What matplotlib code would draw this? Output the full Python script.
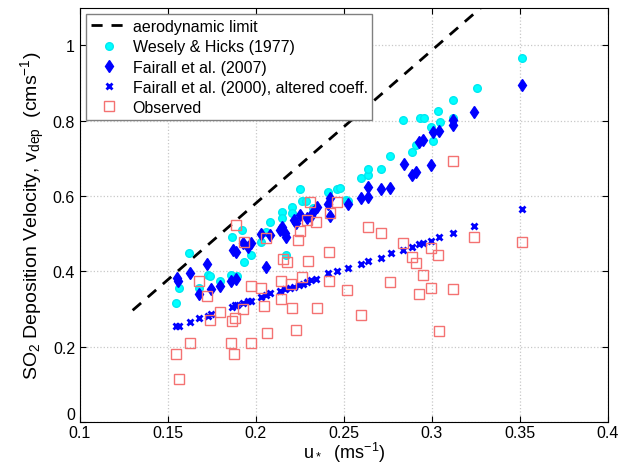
import matplotlib
matplotlib.use('Agg')
import matplotlib.pyplot as plt
from matplotlib.ticker import FixedLocator, FuncFormatter

plt.rcParams['font.family'] = ['Liberation Sans', 'DejaVu Sans']
plt.rcParams['mathtext.default'] = 'regular'

# aerodynamic limit (end points of the straight line)
lim_u = [0.13, 0.35]
lim_v = [0.297, 1.19]

# Wesely & Hicks (1977)
wh_u = [0.1545, 0.1563, 0.162, 0.1678, 0.173, 0.1742, 0.1795, 0.1858, 0.1894, 0.1867,
        0.1924, 0.1934, 0.1975, 0.2032, 0.206, 0.2083, 0.2146, 0.2146, 0.2174, 0.2208,
        0.2208, 0.225, 0.226, 0.2284, 0.2326, 0.241, 0.2462, 0.2477, 0.2515, 0.2525,
        0.26, 0.2638, 0.2638, 0.2714, 0.2765, 0.2837, 0.289, 0.2909, 0.2932, 0.2955,
        0.2993, 0.3004, 0.3036, 0.3045, 0.3118, 0.3121, 0.3256, 0.3515]
wh_v = [0.317, 0.356, 0.448, 0.356, 0.392, 0.388, 0.374, 0.392, 0.388, 0.492,
        0.510, 0.426, 0.444, 0.479, 0.506, 0.532, 0.557, 0.543, 0.445, 0.572,
        0.555, 0.619, 0.586, 0.587, 0.568, 0.610, 0.619, 0.621, 0.590, 0.587,
        0.648, 0.657, 0.673, 0.673, 0.706, 0.803, 0.716, 0.735, 0.808, 0.808,
        0.783, 0.747, 0.826, 0.797, 0.854, 0.808, 0.888, 0.968]

# Fairall et al. (2007)
f07_u = [0.1553, 0.1555, 0.1625, 0.1678, 0.1725, 0.1744, 0.1795, 0.1856, 0.1886, 0.1871,
         0.189, 0.1928, 0.1956, 0.1975, 0.2032, 0.2055, 0.208, 0.2136, 0.2146, 0.2165,
         0.2174, 0.2218, 0.2231, 0.225, 0.2288, 0.2316, 0.2326, 0.2345, 0.241, 0.242,
         0.242, 0.2521, 0.26, 0.2638, 0.2638, 0.2714, 0.2765, 0.2841, 0.289, 0.2909,
         0.2928, 0.295, 0.2993, 0.3004, 0.3042, 0.3121, 0.3121, 0.324, 0.3515]
f07_v = [0.383, 0.375, 0.397, 0.341, 0.419, 0.353, 0.362, 0.374, 0.381, 0.457,
         0.451, 0.475, 0.466, 0.475, 0.499, 0.413, 0.497, 0.510, 0.519, 0.501,
         0.492, 0.537, 0.528, 0.549, 0.543, 0.546, 0.559, 0.570, 0.579, 0.595,
         0.546, 0.579, 0.595, 0.597, 0.623, 0.619, 0.621, 0.686, 0.655, 0.664,
         0.744, 0.750, 0.684, 0.771, 0.774, 0.788, 0.803, 0.824, 0.896]

# Fairall et al. (2000), altered coeff.
f00_u = [0.1545, 0.1564, 0.1625, 0.1678, 0.173, 0.1744, 0.1862, 0.188, 0.1894, 0.1928,
         0.1956, 0.1975, 0.2032, 0.2055, 0.208, 0.214, 0.2165, 0.2193, 0.2218, 0.2246,
         0.2269, 0.2292, 0.2316, 0.2341, 0.241, 0.2462, 0.2521, 0.26, 0.2638, 0.2714,
         0.2767, 0.2837, 0.289, 0.2926, 0.295, 0.2993, 0.3042, 0.3121, 0.324, 0.3515]
f00_v = [0.254, 0.254, 0.266, 0.277, 0.283, 0.288, 0.306, 0.310, 0.312, 0.317,
         0.321, 0.322, 0.332, 0.337, 0.343, 0.348, 0.353, 0.356, 0.359, 0.363,
         0.368, 0.372, 0.377, 0.381, 0.395, 0.401, 0.408, 0.420, 0.428, 0.436,
         0.448, 0.457, 0.466, 0.472, 0.475, 0.481, 0.491, 0.501, 0.521, 0.565]

# Observed
obs_u = [0.1544, 0.1563, 0.1625, 0.1678, 0.1725, 0.1742, 0.1795, 0.1858, 0.1875, 0.1867,
         0.188, 0.189, 0.1928, 0.1934, 0.197, 0.1975, 0.2032, 0.2045, 0.2055, 0.2064,
         0.2142, 0.2142, 0.2155, 0.2178, 0.2197, 0.2208, 0.2227, 0.224, 0.225, 0.226,
         0.2288, 0.2294, 0.231, 0.2341, 0.2345, 0.2416, 0.2416, 0.2424, 0.2462, 0.2519,
         0.2595, 0.2638, 0.2714, 0.2765, 0.2837, 0.289, 0.2909, 0.2926, 0.295, 0.2993,
         0.2998, 0.3036, 0.3042, 0.3118, 0.3121, 0.324, 0.3515]
obs_v = [0.181, 0.115, 0.211, 0.374, 0.334, 0.272, 0.292, 0.210, 0.181, 0.268,
         0.276, 0.523, 0.300, 0.479, 0.210, 0.361, 0.357, 0.308, 0.490, 0.237,
         0.374, 0.326, 0.433, 0.424, 0.368, 0.303, 0.245, 0.483, 0.507, 0.386,
         0.537, 0.428, 0.584, 0.531, 0.303, 0.452, 0.374, 0.555, 0.584, 0.352,
         0.285, 0.519, 0.503, 0.371, 0.475, 0.439, 0.423, 0.341, 0.392, 0.357,
         0.463, 0.444, 0.243, 0.694, 0.353, 0.492, 0.479]

fig = plt.figure(figsize=(6.24, 4.64), dpi=100)
ax = fig.add_axes([0.128, 0.088, 0.846, 0.893])

ax.plot(lim_u, lim_v, '--', color='black', lw=2, dashes=(4, 3.2), label='aerodynamic limit')
ax.plot(wh_u, wh_v, 'o', color='#00ffff', ms=5.5, mec='#00e8f0', ls='none',
        label='Wesely & Hicks (1977)')
ax.plot(f07_u, f07_v, 'd', color='#0000ff', ms=6, ls='none', label='Fairall et al. (2007)')
ax.plot(f00_u, f00_v, 'x', color='#0000ff', ms=4, mew=2, ls='none',
        label='Fairall et al. (2000), altered coeff.')
ax.plot(obs_u, obs_v, 's', mfc='none', mec='#f47272', ms=6.5, mew=1, ls='none',
        label='Observed')

ax.set_xlim(0.1, 0.4)
ax.set_ylim(0, 1.1)
ax.xaxis.set_major_locator(FixedLocator([0.1, 0.15, 0.2, 0.25, 0.3, 0.35, 0.4]))
ax.yaxis.set_major_locator(FixedLocator([0, 0.2, 0.4, 0.6, 0.8, 1.0]))
ax.xaxis.set_major_formatter(FuncFormatter(lambda v, p: ('%g' % round(v, 3))))
ax.yaxis.set_major_formatter(FuncFormatter(lambda v, p: ('%g' % round(v, 3))))
ax.tick_params(direction='in', top=True, right=True, length=4, labelsize=11.5)
ax.tick_params(axis='x', pad=2)
ax.grid(True, ls=':', color='#c8c8c8', lw=0.9)
for s in ax.spines.values():
    s.set_linewidth(0.8)

# lift the "0" on the y axis clear of the first x label
fig.canvas.draw()
ax.get_yticklabels()[0].set_verticalalignment('bottom')

ax.set_xlabel(r'u$_*$  (ms$^{-1}$)', fontsize=13, labelpad=0)
ax.set_ylabel(r'SO$_2$ Deposition Velocity, v$_{dep}$  (cms$^{-1}$)', fontsize=14, labelpad=4)

leg = ax.legend(loc='upper left', fontsize=11.5, fancybox=False, framealpha=1,
                edgecolor='#808080', borderaxespad=0.4, handlelength=2.2,
                handletextpad=0.4, borderpad=0.3, labelspacing=0.33)
leg.get_frame().set_linewidth(1)

fig.savefig('out.png', dpi=100)
